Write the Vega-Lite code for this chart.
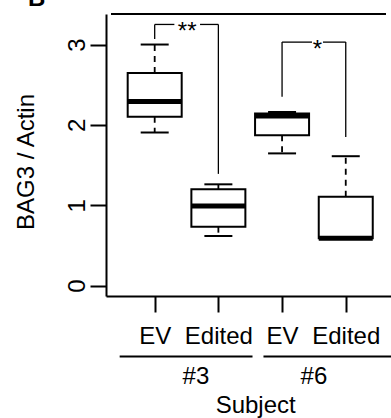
{
  "$schema": "https://vega.github.io/schema/vega-lite/v6.json",
  "width": 285,
  "height": 282,
  "autosize": {"type": "none"},
  "padding": {"left": 106, "top": 14, "right": 0, "bottom": 122},
  "config": {
    "font": "Liberation Sans",
    "view": {"stroke": null},
    "axis": {"grid": false}
  },
  "datasets": {
    "boxes": [
      {"subject": "#3", "group": "EV", "pos": 1, "lower": 1.905, "q1": 2.10, "median": 2.29, "q3": 2.645, "upper": 3.0},
      {"subject": "#3", "group": "Edited", "pos": 2, "lower": 0.617, "q1": 0.733, "median": 0.99, "q3": 1.20, "upper": 1.26},
      {"subject": "#6", "group": "EV", "pos": 3, "lower": 1.645, "q1": 1.87, "median": 2.11, "q3": 2.14, "upper": 2.16},
      {"subject": "#6", "group": "Edited", "pos": 4, "lower": 0.59, "q1": 0.59, "median": 0.59, "q3": 1.105, "upper": 1.61}
    ],
    "brackets": [
      {"x1": 1, "y1": 3.07, "x2": 1, "y2": 3.25},
      {"x1": 1, "y1": 3.25, "x2": 1.309, "y2": 3.25},
      {"x1": 1.712, "y1": 3.25, "x2": 2, "y2": 3.25},
      {"x1": 2, "y1": 3.25, "x2": 2, "y2": 1.39},
      {"x1": 3, "y1": 2.35, "x2": 3, "y2": 3.03},
      {"x1": 3, "y1": 3.03, "x2": 3.47, "y2": 3.03},
      {"x1": 3.642, "y1": 3.03, "x2": 4, "y2": 3.03},
      {"x1": 4, "y1": 3.03, "x2": 4, "y2": 1.85}
    ],
    "stars": [
      {"label": "**", "x": 1.51, "y": 3.25},
      {"label": "*", "x": 3.556, "y": 3.03}
    ],
    "subjects": [
      {"subject": "#3", "start": 0.45, "end": 2.536, "center": 1.647},
      {"subject": "#6", "start": 2.708, "end": 4.75, "center": 3.5}
    ]
  },
  "layer": [
    {
      "data": {"values": [{"edge": "top"}]},
      "mark": {"type": "rule", "strokeWidth": 2, "color": "black"},
      "encoding": {
        "x": {"datum": 0.314, "type": "quantitative", "scale": {"domain": [0.314, 4.632], "nice": false, "zero": false}},
        "x2": {"datum": 4.632},
        "y": {"datum": 3.38, "type": "quantitative", "scale": {"domain": [-0.13, 3.38], "nice": false, "zero": false}}
      }
    },
    {
      "data": {"name": "boxes"},
      "mark": {"type": "rule", "strokeWidth": 1.8, "strokeDash": [6, 5], "color": "black"},
      "encoding": {
        "x": {"field": "pos", "type": "quantitative", "scale": {"domain": [0.314, 4.632], "nice": false, "zero": false},
          "axis": {"title": null, "values": [1, 2, 3, 4], "labelExpr": "datum.value % 2 == 1 ? 'EV' : 'Edited'", "labelFontSize": 24, "labelColor": "black", "labelAngle": 0, "labelAlign": "center", "labelBaseline": "alphabetic", "labelPadding": 31, "labelFlush": false, "labelOverlap": false, "tickSize": 16, "tickWidth": 2, "tickColor": "black", "domainWidth": 2, "domainColor": "black"}},
        "y": {"field": "q3", "type": "quantitative", "scale": {"domain": [-0.13, 3.38], "nice": false, "zero": false},
          "axis": {"title": "BAG3 / Actin", "values": [0, 1, 2, 3], "format": "d", "labelAngle": -90, "labelAlign": "center", "labelBaseline": "alphabetic", "labelPadding": 6, "labelFontSize": 24, "labelColor": "black", "tickSize": 16, "tickWidth": 2, "tickColor": "black", "domainWidth": 2, "domainColor": "black", "titleFontSize": 24, "titleFontWeight": "normal", "titleColor": "black", "titleAngle": -90, "titleAlign": "center", "titleBaseline": "alphabetic", "titleX": -73, "titleY": 147.5}},
        "y2": {"field": "upper"}
      }
    },
    {
      "data": {"name": "boxes"},
      "mark": {"type": "rule", "strokeWidth": 1.8, "strokeDash": [6, 5], "color": "black"},
      "encoding": {
        "x": {"field": "pos", "type": "quantitative", "scale": {"domain": [0.314, 4.632], "nice": false, "zero": false}},
        "y": {"field": "q1", "type": "quantitative", "scale": {"domain": [-0.13, 3.38], "nice": false, "zero": false}},
        "y2": {"field": "lower"}
      }
    },
    {
      "data": {"name": "boxes"},
      "mark": {"type": "tick", "orient": "horizontal", "size": 28, "thickness": 2, "color": "black", "opacity": 1},
      "encoding": {
        "x": {"field": "pos", "type": "quantitative", "scale": {"domain": [0.314, 4.632], "nice": false, "zero": false}},
        "y": {"field": "upper", "type": "quantitative", "scale": {"domain": [-0.13, 3.38], "nice": false, "zero": false}}
      }
    },
    {
      "data": {"name": "boxes"},
      "mark": {"type": "tick", "orient": "horizontal", "size": 28, "thickness": 2, "color": "black", "opacity": 1},
      "encoding": {
        "x": {"field": "pos", "type": "quantitative", "scale": {"domain": [0.314, 4.632], "nice": false, "zero": false}},
        "y": {"field": "lower", "type": "quantitative", "scale": {"domain": [-0.13, 3.38], "nice": false, "zero": false}}
      }
    },
    {
      "data": {"name": "boxes"},
      "mark": {"type": "bar", "width": 54, "fill": "white", "stroke": "black", "strokeWidth": 2},
      "encoding": {
        "x": {"field": "pos", "type": "quantitative", "scale": {"domain": [0.314, 4.632], "nice": false, "zero": false}},
        "y": {"field": "q1", "type": "quantitative", "scale": {"domain": [-0.13, 3.38], "nice": false, "zero": false}},
        "y2": {"field": "q3"}
      }
    },
    {
      "data": {"name": "boxes"},
      "mark": {"type": "tick", "orient": "horizontal", "size": 54, "thickness": 5, "color": "black", "opacity": 1},
      "encoding": {
        "x": {"field": "pos", "type": "quantitative", "scale": {"domain": [0.314, 4.632], "nice": false, "zero": false}},
        "y": {"field": "median", "type": "quantitative", "scale": {"domain": [-0.13, 3.38], "nice": false, "zero": false}}
      }
    },
    {
      "data": {"name": "brackets"},
      "mark": {"type": "rule", "strokeWidth": 1.3, "color": "black"},
      "encoding": {
        "x": {"field": "x1", "type": "quantitative", "scale": {"domain": [0.314, 4.632], "nice": false, "zero": false}},
        "x2": {"field": "x2"},
        "y": {"field": "y1", "type": "quantitative", "scale": {"domain": [-0.13, 3.38], "nice": false, "zero": false}},
        "y2": {"field": "y2"}
      }
    },
    {
      "data": {"name": "stars"},
      "mark": {"type": "text", "fontSize": 24, "align": "center", "baseline": "alphabetic", "dy": 15, "color": "black"},
      "encoding": {
        "x": {"field": "x", "type": "quantitative", "scale": {"domain": [0.314, 4.632], "nice": false, "zero": false}},
        "y": {"field": "y", "type": "quantitative", "scale": {"domain": [-0.13, 3.38], "nice": false, "zero": false}},
        "text": {"field": "label"}
      }
    },
    {
      "data": {"name": "subjects"},
      "mark": {"type": "rule", "strokeWidth": 2, "color": "black"},
      "encoding": {
        "x": {"field": "start", "type": "quantitative", "scale": {"domain": [0.314, 4.632], "nice": false, "zero": false}},
        "x2": {"field": "end"},
        "y": {"datum": -0.882, "type": "quantitative", "scale": {"domain": [-0.13, 3.38], "nice": false, "zero": false}}
      }
    },
    {
      "data": {"name": "subjects"},
      "mark": {"type": "text", "fontSize": 24, "align": "center", "baseline": "alphabetic", "color": "black"},
      "encoding": {
        "x": {"field": "center", "type": "quantitative", "scale": {"domain": [0.314, 4.632], "nice": false, "zero": false}},
        "y": {"datum": -1.221, "type": "quantitative", "scale": {"domain": [-0.13, 3.38], "nice": false, "zero": false}},
        "text": {"field": "subject"}
      }
    },
    {
      "data": {"values": [{"label": "Subject"}]},
      "mark": {"type": "text", "fontSize": 24, "align": "center", "baseline": "alphabetic", "color": "black"},
      "encoding": {
        "x": {"datum": 2.586, "type": "quantitative", "scale": {"domain": [0.314, 4.632], "nice": false, "zero": false}},
        "y": {"datum": -1.588, "type": "quantitative", "scale": {"domain": [-0.13, 3.38], "nice": false, "zero": false}},
        "text": {"field": "label"}
      }
    },
    {
      "data": {"values": [{"label": "B"}]},
      "mark": {"type": "text", "fontSize": 24, "fontWeight": "bold", "align": "left", "baseline": "alphabetic", "color": "black"},
      "encoding": {
        "x": {"datum": -0.989, "type": "quantitative", "scale": {"domain": [0.314, 4.632], "nice": false, "zero": false}},
        "y": {"datum": 3.48, "type": "quantitative", "scale": {"domain": [-0.13, 3.38], "nice": false, "zero": false}},
        "text": {"field": "label"}
      }
    }
  ]
}
